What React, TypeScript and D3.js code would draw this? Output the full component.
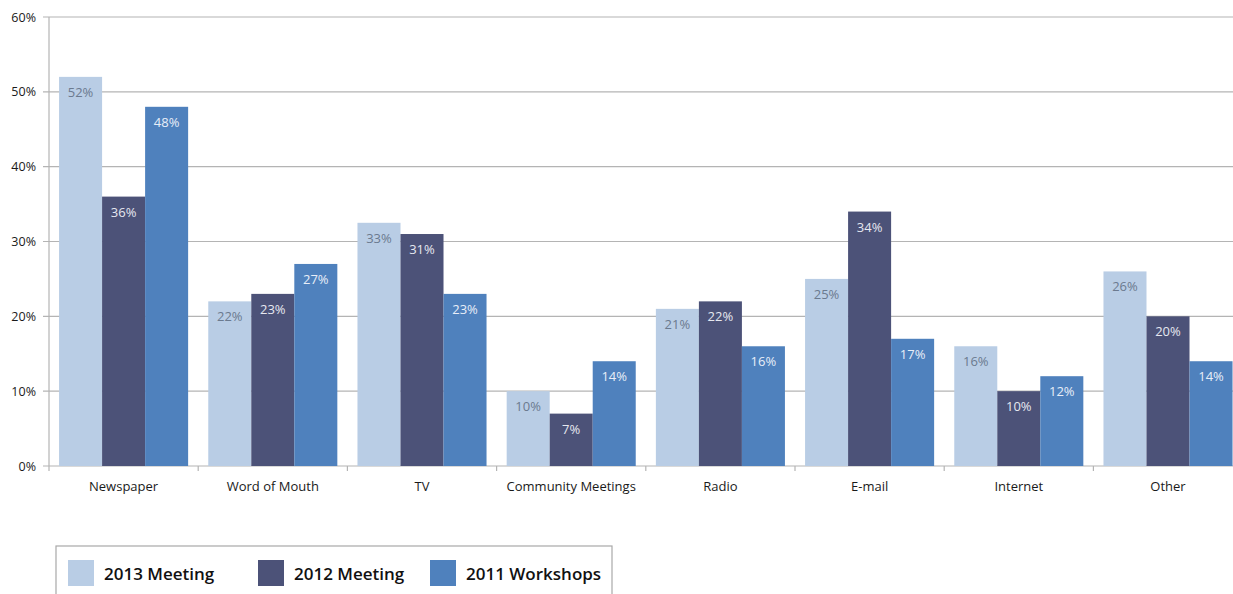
import { useEffect, useRef } from 'react';
import * as d3 from 'd3';

const categories = ['Newspaper', 'Word of Mouth', 'TV', 'Community Meetings', 'Radio', 'E-mail', 'Internet', 'Other'];
const seriesNames = ['2013 Meeting', '2012 Meeting', '2011 Workshops'];
const meeting2013 = [52, 22, 32.5, 10, 21, 25, 16, 26];
const meeting2012 = [36, 23, 31, 7, 22, 34, 10, 20];
const workshops2011 = [48, 27, 23, 14, 16, 17, 12, 14];
const yTicks = [0, 10, 20, 30, 40, 50, 60];

const colors = ['#b9cde5', '#4c5278', '#4f81bd'];
const labelColors = ['#6b7a8f', '#e6e8f0', '#e8eef8'];

const W = 1233;
const H = 594;

const App = (): JSX.Element => {
  const svgRef = useRef<SVGSVGElement>(null);

  useEffect(() => {
    if (!svgRef.current) return;
    svgRef.current.innerHTML = '';
    const series = [meeting2013, meeting2012, workshops2011];

    const marginLeft = 49;
    const bandW = 149.2;
    const plotTop = 17;
    const plotBottom = 466;

    const x = d3
      .scaleBand<string>()
      .domain(categories)
      .range([marginLeft, marginLeft + bandW * categories.length])
      .paddingInner(0.135)
      .paddingOuter(0.0675);
    const inner = d3.scaleBand<number>().domain([0, 1, 2]).range([0, x.bandwidth()]);
    const y = d3.scaleLinear().domain([0, 60]).range([plotBottom, plotTop]);

    const svg = d3.select(svgRef.current).attr('width', W).attr('height', H);
    const font = "'Open Sans', 'DejaVu Sans', sans-serif";

    // grid lines
    svg
      .append('g')
      .selectAll('line')
      .data(yTicks)
      .enter()
      .append('line')
      .attr('x1', marginLeft - 6)
      .attr('x2', W + 20)
      .attr('y1', (d) => y(d))
      .attr('y2', (d) => y(d))
      .attr('stroke', '#b4b4b4')
      .attr('stroke-width', 1.2);

    // y axis line
    svg
      .append('line')
      .attr('x1', marginLeft)
      .attr('x2', marginLeft)
      .attr('y1', plotTop)
      .attr('y2', plotBottom)
      .attr('stroke', '#b4b4b4')
      .attr('stroke-width', 1.2);

    svg
      .append('g')
      .selectAll('text')
      .data(yTicks)
      .enter()
      .append('text')
      .attr('x', 36)
      .attr('y', (d) => y(d) + 4.5)
      .attr('text-anchor', 'end')
      .attr('font-family', font)
      .attr('font-size', 12.5)
      .attr('fill', '#1a1a1a')
      .text((d) => `${d}%`);

    // x axis ticks at band boundaries
    const boundaries = d3.range(categories.length + 1).map((i) => marginLeft + i * bandW);
    svg
      .append('g')
      .selectAll('line')
      .data(boundaries)
      .enter()
      .append('line')
      .attr('x1', (d) => d)
      .attr('x2', (d) => d)
      .attr('y1', plotBottom)
      .attr('y2', plotBottom + 5)
      .attr('stroke', '#b4b4b4')
      .attr('stroke-width', 1.2);

    // bars
    const groups = svg
      .append('g')
      .selectAll('g')
      .data(categories)
      .enter()
      .append('g')
      .attr('transform', (c) => `translate(${x(c)},0)`);

    series.forEach((vals, si) => {
      groups
        .append('rect')
        .attr('x', inner(si) as number)
        .attr('width', inner.bandwidth())
        .attr('y', (_c, i) => y(vals[i]))
        .attr('height', (_c, i) => plotBottom - y(vals[i]))
        .attr('fill', colors[si]);
      groups
        .append('text')
        .attr('x', (inner(si) as number) + inner.bandwidth() / 2)
        .attr('y', (_c, i) => y(vals[i]) + 20)
        .attr('text-anchor', 'middle')
        .attr('font-family', font)
        .attr('font-size', 13)
        .attr('fill', labelColors[si])
        .text((_c, i) => `${Math.round(vals[i])}%`);
    });

    // category labels
    svg
      .append('g')
      .selectAll('text')
      .data(categories)
      .enter()
      .append('text')
      .attr('x', (c) => (x(c) as number) + x.bandwidth() / 2)
      .attr('y', 491)
      .attr('text-anchor', 'middle')
      .attr('font-family', font)
      .attr('font-size', 13)
      .attr('fill', '#1a1a1a')
      .text((c) => c);

    // legend
    const legend = svg.append('g');
    legend
      .append('rect')
      .attr('x', 56)
      .attr('y', 546)
      .attr('width', 556)
      .attr('height', 60)
      .attr('fill', 'white')
      .attr('stroke', '#a8a8a8')
      .attr('stroke-width', 1.2);
    const legendX = [68, 258, 430];
    seriesNames.forEach((name, i) => {
      legend
        .append('rect')
        .attr('x', legendX[i])
        .attr('y', 560)
        .attr('width', 26)
        .attr('height', 26)
        .attr('fill', colors[i]);
      legend
        .append('text')
        .attr('x', legendX[i] + 36)
        .attr('y', 580)
        .attr('font-family', font)
        .attr('font-size', 17)
        .attr('font-weight', 600)
        .attr('fill', '#111')
        .text(name);
    });
  }, []);

  return (
    <div style={{ position: 'absolute', left: 0, top: 0 }}>
      <svg ref={svgRef} style={{ display: 'block' }} />
    </div>
  );
};

export default App;
